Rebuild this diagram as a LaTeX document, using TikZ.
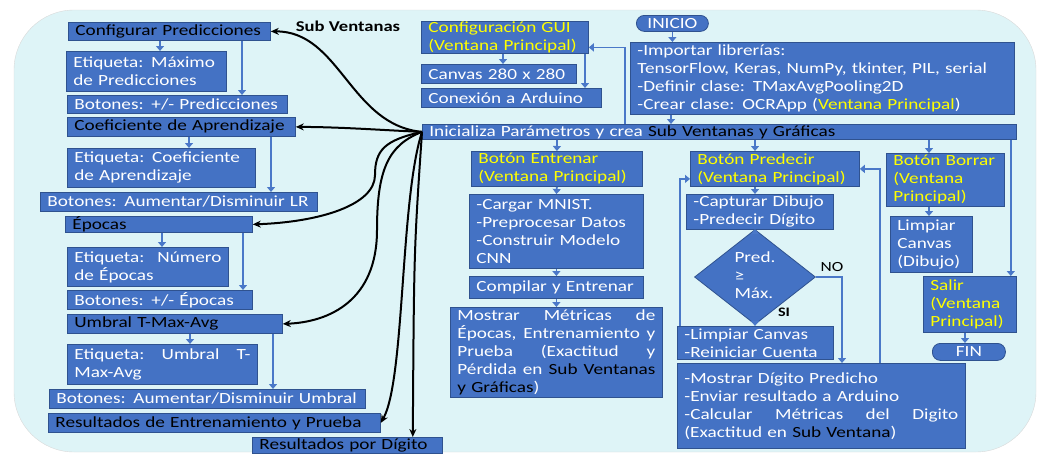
\documentclass[tikz,border=0pt]{standalone}
\usepackage{fontspec}
\setmainfont{Carlito}[FakeStretch=1.24]
\usetikzlibrary{arrows.meta,shapes.geometric}
\definecolor{boxblue}{HTML}{4472C4}
\definecolor{boxedge}{HTML}{2F528F}
\definecolor{lineblue}{HTML}{4A78C8}
\definecolor{bgcyan}{HTML}{DEF4F7}
\definecolor{yel}{HTML}{FFFF00}
\newcommand{\jline}[2]{\makebox[#1][l]{#2}}
\tikzset{
  box/.style={draw=boxedge, fill=boxblue, line width=0.8pt, text=white, align=left,
    inner xsep=7pt, inner ysep=0pt, anchor=north west, font=\fontsize{15.5}{18}\selectfont},
  titlebox/.style={box, text=black},
  yelbox/.style={box, text=yel},
  pill/.style={draw=boxedge, fill=boxblue, line width=0.8pt, text=white, rounded corners=8pt,
    inner sep=0pt, anchor=north west, font=\fontsize{15.5}{18}\selectfont},
  decision/.style={diamond, draw=boxedge, fill=boxblue, line width=0.8pt, text=white,
    inner sep=0pt, minimum width=121pt, minimum height=76pt, font=\fontsize{15.5}{18}\selectfont},
  arr/.style={draw=lineblue, line width=1.8pt, -{Triangle[length=5pt,width=8pt]}},
  subarr/.style={draw=black, line width=2pt, -{Stealth[length=8pt,width=7pt]}},
}
\begin{document}
\begin{tikzpicture}[x=1pt,y=-1pt]
  \useasboundingbox (0,0) rectangle (1039,455);
  % Background
  \draw[draw=black!15, fill=bgcyan, rounded corners=60pt] (14,10) rectangle (1036,452);

  % Sub windows (left column)
  \node (cp) at (68,22) [titlebox, text width=188pt, minimum height=18pt] {Configurar Predicciones};
  \node (epm) at (66,51) [box, text width=146pt, minimum height=40pt] {Etiqueta: Máximo\\de Predicciones};
  \node (bpp) at (67,95) [box, text width=206pt, minimum height=18pt] {Botones: +/- Predicciones};
  \node (ca) at (67,117) [titlebox, text width=214pt, minimum height=19pt] {Coeficiente de Aprendizaje};
  \node (eca) at (67,148) [box, text width=174pt, minimum height=39pt] {Etiqueta: Coeficiente\\de Aprendizaje};
  \node (blr) at (40,192) [box, text width=263pt, minimum height=19pt] {Botones: Aumentar/Disminuir LR};
  \node (ep) at (65,216) [titlebox, text width=173pt, minimum height=16pt] {Épocas};
  \node (ene) at (67,247) [box, text width=147pt, minimum height=39pt] {\jline{147pt}{Etiqueta:\hfill Número}\\de Épocas};
  \node (bep) at (67,290) [box, text width=171pt, minimum height=19pt] {Botones: +/- Épocas};
  \node (ut) at (67,314) [titlebox, text width=201pt, minimum height=19pt] {Umbral T-Max-Avg};
  \node (eut) at (67,344) [box, text width=176pt, minimum height=40pt] {\jline{176pt}{Etiqueta:\hfill Umbral\hfill T-}\\Max-Avg};
  \node (bdu) at (49,389) [box, text width=302pt, minimum height=19pt] {Botones: Aumentar/Disminuir Umbral};
  \node (ret) at (48,413) [titlebox, text width=318pt, minimum height=19pt] {Resultados de Entrenamiento y Prueba};
  \node (rpd) at (252,437) [titlebox, text width=176pt, minimum height=16pt] {Resultados por Dígito};
  \node (sv) at (348,26) [font=\bfseries\fontsize{15}{18}\selectfont] {Sub Ventanas};

  % Main window
  \node (gui) at (421,21) [yelbox, text width=153pt, minimum height=32pt] {Configuración GUI\\(Ventana Principal)};
  \node (cv) at (421,64) [box, text width=141pt, minimum height=19pt] {Canvas 280 x 280};
  \node (ard) at (421,88) [box, text width=166pt, minimum height=19pt] {Conexión a Arduino};
  \node (ini) at (636,15) [pill, minimum width=72pt, minimum height=16pt] {INICIO};
  \node (imp) at (630,42) [box, text width=370pt, minimum height=72pt] {-Importar librerías:\\
    TensorFlow, Keras, NumPy, tkinter, PIL, serial\\
    -Definir clase: TMaxAvgPooling2D\\
    -Crear clase: OCRApp (\textcolor{yel}{Ventana Principal})};
  \node (inz) at (422,124) [box, text width=580pt, minimum height=15pt] {Inicializa Parámetros y crea \textcolor{black}{Sub Ventanas y Gráficas}};

  % Training
  \node (ben) at (471,151) [yelbox, text width=157pt, minimum height=35pt] {Botón Entrenar\\(Ventana Principal)};
  \node (cmn) at (469,194) [box, text width=160pt, minimum height=74pt] {-Cargar MNIST.\\-Preprocesar Datos\\-Construir Modelo\\CNN};
  \node (cye) at (469,276) [box, text width=160pt, minimum height=22pt] {Compilar y Entrenar};
  \node (mme) at (450,307) [box, text width=198pt, minimum height=90pt] {\jline{198pt}{Mostrar\hfill Métricas\hfill de}\\
    \jline{198pt}{Épocas,\hfill Entrenamiento\hfill y}\\\jline{198pt}{Prueba\hfill (Exactitud\hfill y}\\
    \jline{198pt}{Pérdida\hfill en\hfill \textcolor{black}{Sub\hfill Ventanas}}\\\textcolor{black}{y Gráficas})};

  % Prediction
  \node (bpr) at (690,151) [yelbox, text width=155pt, minimum height=35pt] {Botón Predecir\\(Ventana Principal)};
  \node (cdd) at (686,194) [box, text width=133pt, minimum height=35pt] {-Capturar Dibujo\\-Predecir Dígito};
  \node (dia) at (755,277) [decision] {\begin{tabular}{@{}l@{}}Pred.\\≥\\Máx.\end{tabular}};
  \node (no) at (832,267) [font=\fontsize{14}{16}\selectfont] {NO};
  \node (si) at (784,312) [font=\bfseries\fontsize{13}{16}\selectfont] {SI};
  \node (lcr) at (677,326) [box, text width=142pt, minimum height=33pt] {-Limpiar Canvas\\-Reiniciar Cuenta};
  \node (mdp) at (677,363) [box, text width=274pt, minimum height=85pt] {-Mostrar Dígito Predicho\\
    -Enviar resultado a Arduino\\\jline{274pt}{-Calcular\hfill Métricas\hfill del\hfill Digito}\\
    (Exactitud en \textcolor{black}{Sub Ventana})};

  % Clear and exit
  \node (bbo) at (886,153) [yelbox, text width=104pt, minimum height=53pt] {Botón Borrar\\(Ventana\\Principal)};
  \node (lcd) at (890,216) [box, text width=68pt, minimum height=56pt] {Limpiar\\Canvas\\(Dibujo)};
  \node (sal) at (923,276) [yelbox, text width=79pt, minimum height=56pt] {Salir\\(Ventana\\Principal)};
  \node (fin) at (932,343) [pill, minimum width=73pt, minimum height=17pt] {FIN};

  % Blue connectors
  \draw[arr] ([xshift=92pt]cp.south west) -- ([xshift=94pt]epm.north west);
  \draw[arr] ([xshift=174pt]cp.south west) -- ([xshift=175pt]bpp.north west);
  \draw[arr] ([xshift=122pt]ca.south west) -- ([xshift=122pt]eca.north west);
  \draw[arr] ([xshift=204pt]ca.south west) -- ([xshift=231pt]blr.north west);
  \draw[arr] ([xshift=97pt]ep.south west) -- ([xshift=95pt]ene.north west);
  \draw[arr] ([xshift=178pt]ep.south west) -- ([xshift=176pt]bep.north west);
  \draw[arr] ([xshift=123pt]ut.south west) -- ([xshift=123pt]eut.north west);
  \draw[arr] ([xshift=206pt]ut.south west) -- ([xshift=224pt]bdu.north west);
  \draw[arr] ([xshift=82pt]gui.south west) -- ([xshift=82pt]cv.north west);
  \draw[arr] ([xshift=164pt]gui.south west) -- ([xshift=164pt]ard.north west);
  \draw[arr] ([xshift=203pt]inz.north west) |- ([yshift=-10pt]gui.east);
  \draw[arr] (ini.south) -- (ini.south |- imp.north);
  \draw[arr] ([xshift=41pt]imp.south west) -- ([xshift=249pt]inz.north west);
  \draw[arr] ([xshift=135pt]inz.south west) -- (ben.north);
  \draw[arr] (ben.south) -- (cmn.north);
  \draw[arr] (cmn.south) -- (cye.north);
  \draw[arr] (cye.south) -- (mme.north);
  \draw[arr] ([xshift=333pt]inz.south west) -- ([xshift=65pt]bpr.north west);
  \draw[arr] ([xshift=65pt]bpr.south west) -- ([xshift=69pt]cdd.north west);
  \draw[arr] ([xshift=69pt]cdd.south west) -- (dia.north);
  \draw[arr] (dia.south) -- (dia.south |- lcr.north);
  \draw[arr] (dia.east) -| ([xshift=165pt]mdp.north west);
  \draw[arr] ([xshift=3pt]lcr.north west) |- ([yshift=-10pt]bpr.west);
  \draw[arr] ([xshift=203pt]mdp.north west) |- (bpr.east);
  \draw[arr] ([xshift=507pt]inz.south west) -- ([xshift=43pt]bbo.north west);
  \draw[arr] ([xshift=43pt]bbo.south west) -- ([xshift=39pt]lcd.north west);
  \draw[arr] ([xshift=-6pt]inz.south east) -- ([xshift=-6pt]sal.north east);
  \draw[arr] ([xshift=42pt]sal.south west) -- ([xshift=33pt]fin.north west);

  % Black connectors to the sub windows
  \draw[subarr] (inz.west) .. controls (350,125) and (340,31) .. (cp.east);
  \draw[subarr] (inz.west) .. controls (380,130) and (340,127) .. (ca.east);
  \draw[subarr] (inz.west) .. controls (385,140) and (375,150) .. (375,175)
    .. controls (375,205) and (320,222) .. (ep.east);
  \draw[subarr] (inz.west) .. controls (388,145) and (377,170) .. (377,230)
    .. controls (377,300) and (330,322) .. (ut.east);
  \draw[subarr] (inz.west) .. controls (400,200) and (405,380) .. (ret.east);
  \draw[subarr] (inz.west) .. controls (414,250) .. ([xshift=-30pt]rpd.north east);
\end{tikzpicture}
\end{document}
